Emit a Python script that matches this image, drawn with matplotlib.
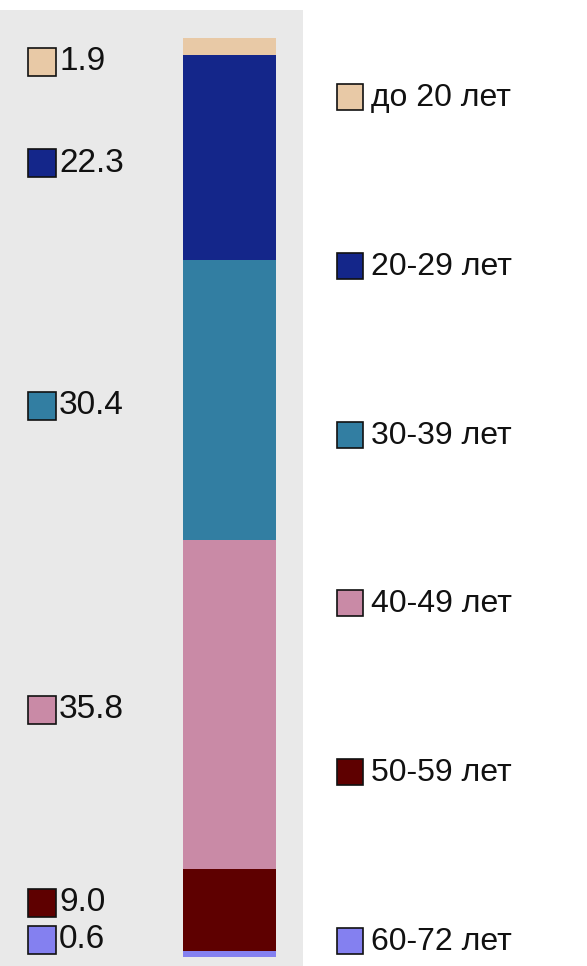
import matplotlib
matplotlib.use("Agg")
import matplotlib.pyplot as plt
import numpy as np

# Data (legend order, top of bar first)
categories = ["до 20 лет", "20-29 лет", "30-39 лет", "40-49 лет", "50-59 лет", "60-72 лет"]
values = [1.9, 22.3, 30.4, 35.8, 9.0, 0.6]
colors = ["#e8c9a6", "#14268a", "#327ea2", "#c98aa6", "#5e0000", "#8480f0"]

plt.rcParams['font.family'] = ['Liberation Sans', 'DejaVu Sans']

W, H = 587, 966
fig = plt.figure(figsize=(W / 100, H / 100), dpi=100)
fig.patch.set_facecolor("white")

# Gray plot panel
ax = fig.add_axes([0, 0, 303 / W, 956 / H])
ax.set_facecolor("#e9e9e9")
for s in ax.spines.values():
    s.set_visible(False)
ax.set_xticks([])
ax.set_yticks([])
px_per_unit = 9.19
ax.set_ylim(-9 / px_per_unit, (956 - 9) / px_per_unit)
ax.set_xlim(0, 303)

# Stacked bar, bottom segment = last category
bottom = 0.0
centers = []
for cat, val, col in zip(categories[::-1], values[::-1], colors[::-1]):
    ax.bar(229.5, val, width=93, bottom=bottom, color=col, edgecolor="none", linewidth=0)
    centers.append(bottom + val / 2)
    bottom += val

# Label positions: segment centers, kept apart
lab = []
for c in centers:
    y = min(max(c, 2.5), 98.0)
    if lab and y < lab[-1] + 4.0:
        y = lab[-1] + 4.0
    lab.append(y)
lab = [y - 0.6 for y in lab]

for y, val, col in zip(lab, values[::-1], colors[::-1]):
    ax.plot([41.5], [y], marker="s", markersize=20, markerfacecolor=col,
            markeredgecolor="#111111", markeredgewidth=1.2, clip_on=False)
    ax.text(59, y, f"{val:.1f}", fontsize=24, color="#111111", va="center", ha="left")

# Legend on the right
lax = fig.add_axes([303 / W, 0, (W - 303) / W, 1])
lax.set_xlim(303, W)
lax.set_ylim(H, 0)
lax.set_axis_off()
ys = np.linspace(97, 941, len(categories))
for y, cat, col in zip(ys, categories, colors):
    lax.plot([350], [y], marker="s", markersize=19, markerfacecolor=col,
             markeredgecolor="#111111", markeredgewidth=1.2, clip_on=False)
    lax.text(371, y + 1, cat, fontsize=23, color="#111111", va="center", ha="left")

fig.savefig("out.png", dpi=100)
